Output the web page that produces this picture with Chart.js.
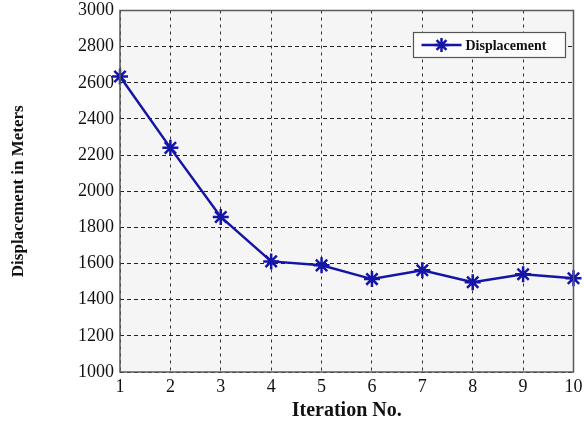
<!DOCTYPE html>
<html>
<head>
<meta charset="utf-8">
<script src="https://cdn.jsdelivr.net/npm/chart.js@4"></script>
<style>
  html, body { margin: 0; padding: 0; background: #fff; }
  #wrap { width: 584px; height: 425px; }
</style>
</head>
<body>
<div id="wrap"><canvas id="myChart" width="584" height="425"></canvas></div>
<script>
// data
const iterations = ["1", "2", "3", "4", "5", "6", "7", "8", "9", "10"];
const displacement = [2635, 2240, 1858, 1612, 1590, 1514, 1563, 1497, 1541, 1519];
const yMin = 1000;
const yMax = 3000;
const yStep = 200;

const serif = "'Liberation Serif', 'Times New Roman', serif";
const lineBlue = "#1414a6";

// plot frame + grey background
const framePlugin = {
  id: "frame",
  beforeDraw(chart) {
    const a = chart.chartArea;
    const ctx = chart.ctx;
    ctx.save();
    ctx.fillStyle = "#f5f5f5";
    ctx.fillRect(a.left, a.top, a.right - a.left, a.bottom - a.top);
    ctx.restore();
  },
  afterDraw(chart) {
    const a = chart.chartArea;
    const ctx = chart.ctx;
    ctx.save();
    ctx.strokeStyle = "#5a5a5a";
    ctx.lineWidth = 1.5;
    ctx.strokeRect(a.left, a.top, a.right - a.left, a.bottom - a.top);
    ctx.restore();
  }
};

// legend box inside the plot, top right
const insideLegend = {
  id: "insideLegend",
  afterDatasetsDraw(chart) {
    const a = chart.chartArea;
    const ctx = chart.ctx;
    const ds = chart.data.datasets[0];
    const w = 152, h = 25;
    const x = a.right - 8 - w;
    const y = a.top + 22;
    ctx.save();
    ctx.fillStyle = "#fcfcfc";
    ctx.fillRect(x, y, w, h);
    ctx.strokeStyle = "#555";
    ctx.lineWidth = 1.2;
    ctx.strokeRect(x, y, w, h);
    const cy = y + h / 2;
    ctx.strokeStyle = ds.borderColor;
    ctx.lineWidth = 2.5;
    ctx.beginPath();
    ctx.moveTo(x + 8, cy);
    ctx.lineTo(x + 48, cy);
    ctx.stroke();
    Chart.helpers.drawPoint(ctx, {
      pointStyle: "star", radius: 7, borderWidth: 2.5
    }, x + 28, cy);
    ctx.fillStyle = "#111";
    ctx.font = "bold 14px " + serif;
    ctx.textBaseline = "middle";
    ctx.fillText(ds.label, x + 52, cy + 1);
    ctx.restore();
  }
};

const ctx = document.getElementById("myChart").getContext("2d");
const myChart = new Chart(ctx, {
  type: "line",
  data: {
    labels: iterations,
    datasets: [
      {
        label: "Displacement",
        data: displacement,
        borderColor: lineBlue,
        backgroundColor: lineBlue,
        borderWidth: 2.5,
        pointStyle: "star",
        pointRadius: 8,
        pointBorderWidth: 2.5,
        pointBorderColor: lineBlue,
        tension: 0,
        clip: false
      }
    ]
  },
  options: {
    responsive: false,
    animation: false,
    devicePixelRatio: 1,
    layout: { padding: { top: 2, right: 9, bottom: 0, left: 0 } },
    plugins: {
      legend: { display: false },
      tooltip: { enabled: false }
    },
    scales: {
      x: {
        type: "category",
        offset: false,
        grid: {
          color: "#333",
          lineWidth: 1,
          drawTicks: false
        },
        border: { display: false, dash: [3, 4] },
        ticks: {
          color: "#111",
          font: { family: serif, size: 18 },
          padding: 4,
          maxRotation: 0,
          autoSkip: false
        },
        title: {
          display: true,
          text: "Iteration No.",
          color: "#111",
          font: { family: serif, size: 20, weight: "bold" },
          padding: { top: 0, bottom: 2 }
        },
        afterFit(scale) {
          scale.height = 53;
          scale.paddingLeft = 0;
          scale.paddingRight = 0;
        }
      },
      y: {
        min: yMin,
        max: yMax,
        grid: {
          color: "#222",
          lineWidth: 1,
          drawTicks: false
        },
        border: { display: false, dash: [4, 3] },
        ticks: {
          stepSize: yStep,
          color: "#111",
          font: { family: serif, size: 18 },
          padding: 6,
          callback: (v) => String(v)
        },
        title: {
          display: true,
          text: "Displacement in Meters",
          color: "#111",
          font: { family: serif, size: 17, weight: "bold" },
          padding: { top: 8, bottom: 0 }
        },
        afterFit(scale) {
          scale.width = 120;
          scale.paddingTop = 0;
          scale.paddingBottom = 0;
        }
      }
    }
  },
  plugins: [framePlugin, insideLegend]
});
</script>
</body>
</html>
